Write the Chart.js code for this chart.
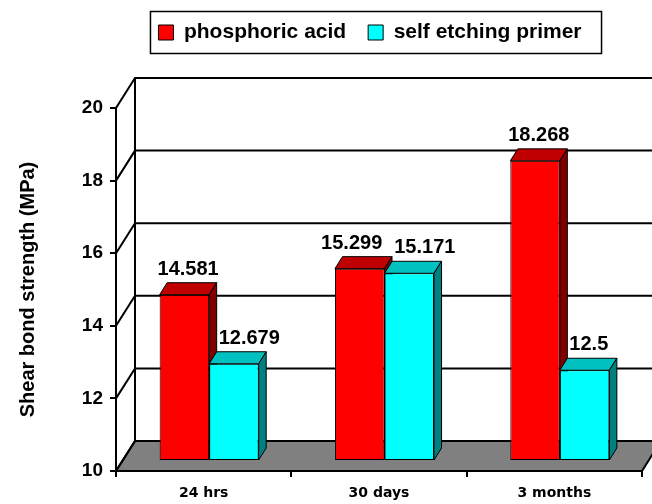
<!DOCTYPE html>
<html>
<head>
<meta charset="utf-8">
<script src="https://cdn.jsdelivr.net/npm/chart.js@4/dist/chart.umd.min.js"></script>
<style>
    html, body { margin: 0; padding: 0; background: #fff; }
    #wrap { width: 652px; height: 504px; }
</style>
</head>
<body>
<div id="wrap"><canvas id="shearChart"></canvas></div>
<script>
/* Shear bond strength — 3D-look clustered columns */

const categories = ['24 hrs', '30 days', '3 months'];
const phosphoricAcid = [14.581, 15.299, 18.268];
const selfEtchingPrimer = [12.679, 15.171, 12.5];
const yMin = 10;
const yMax = 20;
const yStep = 2;

// depth offsets for the fake perspective
const WALL = { dx: 19, dy: -30 };
const BAR_PLANE = { dx: 5.5, dy: -10 };
const BAR_DEPTH = { dx: 7.5, dy: -12 };
const LEGEND_SHIFT = -9;

function poly(ctx, pts, fill) {
    ctx.beginPath();
    ctx.moveTo(pts[0][0], pts[0][1]);
    for (let i = 1; i < pts.length; i++) ctx.lineTo(pts[i][0], pts[i][1]);
    ctx.closePath();
    ctx.fillStyle = fill;
    ctx.fill();
    ctx.stroke();
}

const pseudo3d = {
    id: 'pseudo3d',
    afterLayout(chart) {
        // legend in the original sits a little left of the plot centre
        const lg = chart.legend;
        if (lg) {
            lg.left += LEGEND_SHIFT;
            lg.right += LEGEND_SHIFT;
        }
    },
    beforeDatasetsDraw(chart) {
        const { ctx, chartArea: a, scales: { y } } = chart;
        ctx.save();
        ctx.strokeStyle = '#000';
        ctx.lineWidth = 2;

        // floor
        poly(ctx, [
            [a.left, a.bottom], [a.right, a.bottom],
            [a.right + WALL.dx, a.bottom + WALL.dy], [a.left + WALL.dx, a.bottom + WALL.dy],
        ], '#808080');

        // side wall diagonals + back wall grid
        y.ticks.forEach(t => {
            const py = y.getPixelForValue(t.value);
            ctx.beginPath();
            ctx.moveTo(a.left, py);
            ctx.lineTo(a.left + WALL.dx, py + WALL.dy);
            ctx.lineTo(a.right + WALL.dx, py + WALL.dy);
            ctx.stroke();
        });
        ctx.beginPath();
        ctx.moveTo(a.left + WALL.dx, a.top + WALL.dy);
        ctx.lineTo(a.left + WALL.dx, a.bottom + WALL.dy);
        ctx.stroke();

        // bars, drawn in dataset order so the right bar covers the left one's side
        ctx.translate(BAR_PLANE.dx, BAR_PLANE.dy);
        chart.data.datasets.forEach((ds, di) => {
            chart.getDatasetMeta(di).data.forEach(bar => {
                bar.draw(ctx);
                const l = bar.x - bar.width / 2;
                const r = bar.x + bar.width / 2;
                const top = bar.y;
                const base = bar.base;
                ctx.strokeStyle = '#000';
                ctx.lineWidth = 1;
                poly(ctx, [
                    [l, top], [r, top],
                    [r + BAR_DEPTH.dx, top + BAR_DEPTH.dy], [l + BAR_DEPTH.dx, top + BAR_DEPTH.dy],
                ], ds.topColor);
                poly(ctx, [
                    [r, top], [r, base],
                    [r + BAR_DEPTH.dx, base + BAR_DEPTH.dy], [r + BAR_DEPTH.dx, top + BAR_DEPTH.dy],
                ], ds.sideColor);
            });
        });

        // value labels
        ctx.font = 'bold 20px "Liberation Sans", Arial, sans-serif';
        ctx.textAlign = 'center';
        ctx.textBaseline = 'alphabetic';
        ctx.fillStyle = '#000';
        categories.forEach((c, i) => {
            const bars = chart.data.datasets.map((ds, di) => chart.getDatasetMeta(di).data[i]);
            const items = chart.data.datasets.map((ds, di) => {
                const bar = bars[di];
                const text = String(ds.data[i]);
                return {
                    text,
                    cx: bar.x + BAR_DEPTH.dx / 2,
                    y: bar.y + BAR_DEPTH.dy - 8,
                    w: ctx.measureText(text).width,
                };
            });
            for (let k = 1; k < items.length; k++) {
                const p = items[k - 1], q = items[k];
                const prev = bars[k - 1];
                // keep a low label clear of the taller neighbour's side face
                if (q.y - 16 > prev.y + BAR_DEPTH.dy) {
                    const minLeft = prev.x + prev.width / 2 + BAR_DEPTH.dx + 2;
                    if (q.cx - q.w / 2 < minLeft) q.cx = minLeft + q.w / 2;
                }
                // pull apart labels that collide
                const need = (p.w + q.w) / 2 + 12 - (q.cx - p.cx);
                if (need > 0 && Math.abs(p.y - q.y) < 22) {
                    p.cx -= need / 2;
                    q.cx += need / 2;
                }
            }
            items.forEach(it => ctx.fillText(it.text, it.cx, it.y));
        });

        ctx.restore();
        return false;
    },
    afterDraw(chart) {
        const lg = chart.legend;
        const hb = lg && lg.legendHitBoxes;
        if (!hb || !hb.length) return;
        const { ctx } = chart;
        const first = hb[0];
        const last = hb[hb.length - 1];
        const cy = first.top + first.height / 2;
        const left = first.left - 8;
        const right = last.left + last.width + 20;
        ctx.save();
        ctx.strokeStyle = '#000';
        ctx.lineWidth = 1.5;
        ctx.strokeRect(left, cy - 21, right - left, 42);
        ctx.restore();
    },
};

function barSeries(label, data, front, top, side) {
    return {
        label,
        data,
        base: yMin,
        backgroundColor: front,
        topColor: top,
        sideColor: side,
        borderColor: '#000',
        borderWidth: 1,
        borderSkipped: false,
        categoryPercentage: 0.565,
        barPercentage: 1,
    };
}

new Chart(document.getElementById('shearChart'), {
    type: 'bar',
    data: {
        labels: categories,
        datasets: [
            barSeries('phosphoric acid', phosphoricAcid, '#ff0000', '#c00000', '#800000'),
            barSeries('self etching primer', selfEtchingPrimer, '#00ffff', '#00c0c0', '#008080'),
        ],
    },
    options: {
        responsive: true,
        maintainAspectRatio: false,
        devicePixelRatio: 1,
        animation: false,
        events: [],
        layout: { padding: { top: 0, right: 10, bottom: 0, left: 0 } },
        plugins: {
            legend: {
                position: 'top',
                fullSize: false,
                weight: 1000,
                labels: {
                    color: '#000',
                    boxWidth: 15,
                    boxHeight: 15,
                    padding: 22,
                    font: { family: '"Liberation Sans", Arial, sans-serif', size: 21, weight: 'bold' },
                },
            },
            // empty spacer between legend and plot
            title: {
                display: true,
                text: '',
                position: 'top',
                weight: 500,
                padding: 0,
                font: { size: 55, lineHeight: 1 },
            },
            tooltip: { enabled: false },
        },
        scales: {
            x: {
                grid: { drawOnChartArea: false, drawTicks: true, tickLength: 6, color: '#000', lineWidth: 2 },
                border: { display: true, color: '#000', width: 2 },
                ticks: {
                    color: '#000',
                    padding: 8,
                    font: { family: '"DejaVu Sans", sans-serif', size: 14, weight: 'bold' },
                },
                afterFit(scale) { scale.height = 33; },
            },
            y: {
                min: yMin,
                max: yMax,
                grid: { drawOnChartArea: false, drawTicks: true, tickLength: 6, color: '#000', lineWidth: 2 },
                border: { display: true, color: '#000', width: 2 },
                ticks: {
                    stepSize: yStep,
                    color: '#000',
                    padding: 7,
                    font: { family: '"Liberation Sans", Arial, sans-serif', size: 19, weight: 'bold' },
                },
                title: {
                    display: true,
                    text: 'Shear bond strength (MPa)',
                    color: '#000',
                    padding: { top: 16, bottom: 0 },
                    font: { family: '"Liberation Sans", Arial, sans-serif', size: 20, weight: 'bold', lineHeight: 1.2 },
                },
                afterFit(scale) { scale.width = 116; },
            },
        },
    },
    plugins: [pseudo3d],
});
</script>
</body>
</html>
